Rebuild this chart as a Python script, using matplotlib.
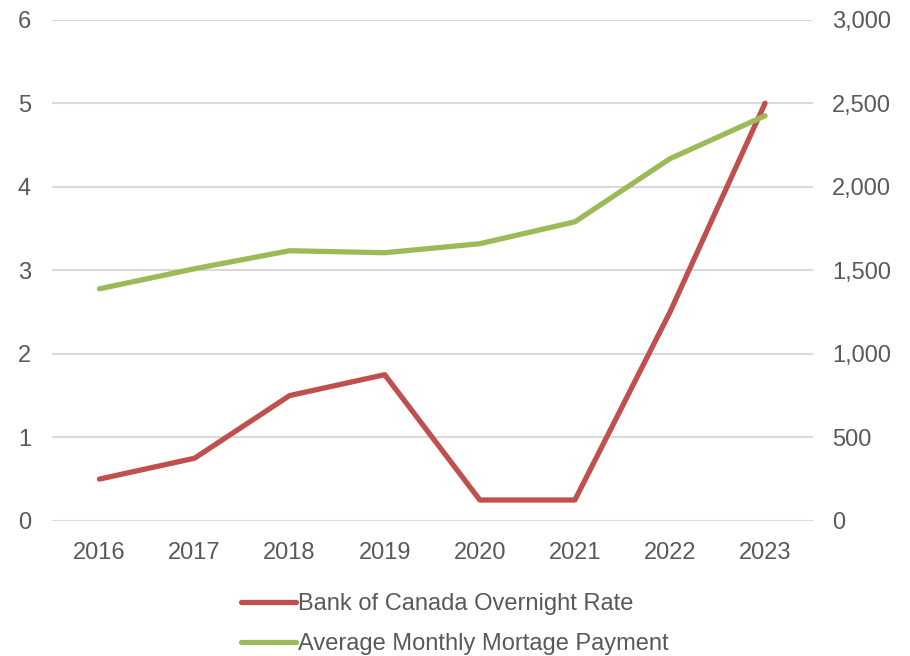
import matplotlib.pyplot as plt
from matplotlib.ticker import FuncFormatter

years = ["2016", "2017", "2018", "2019", "2020", "2021", "2022", "2023"]
overnight_rate = [0.5, 0.75, 1.5, 1.75, 0.25, 0.25, 2.5, 5.0]
mortgage_payment = [1389, 1509, 1617, 1605, 1659, 1790, 2168, 2425]

plt.rcParams['font.family'] = ['Liberation Sans', 'DejaVu Sans']
text_color = "#595959"
grid_color = "#D9D9D9"
red = "#C0504D"
green = "#9BBB59"

fig = plt.figure(figsize=(9.1, 6.56), dpi=100)
ax = fig.add_axes([0.057, 0.206, 0.836, 0.764])
ax2 = ax.twinx()

x = range(len(years))
l1, = ax.plot(x, overnight_rate, color=red, lw=3.8, solid_capstyle="round",
              label="Bank of Canada Overnight Rate", zorder=3)
l2, = ax2.plot(x, mortgage_payment, color=green, lw=3.8, solid_capstyle="round",
               label="Average Monthly Mortage Payment", zorder=3)

ax.set_xlim(-0.5, len(years) - 0.5)
ax.set_ylim(0, 6)
ax2.set_ylim(0, 3000)
ax.set_yticks(range(0, 7))
ax2.set_yticks(range(0, 3001, 500))
ax2.yaxis.set_major_formatter(FuncFormatter(lambda v, p: f"{int(v):,}"))
ax.set_xticks(list(x))
ax.set_xticklabels(years)

ax.grid(axis="y", color=grid_color, lw=1.5)
ax.set_axisbelow(True)
for a in (ax, ax2):
    for s in a.spines.values():
        s.set_visible(False)
    a.tick_params(length=0, labelsize=17, labelcolor=text_color)
ax.tick_params(axis="y", pad=15)
ax.tick_params(axis="x", pad=15)
ax2.tick_params(axis="y", pad=14)

fig.legend(handles=[l1, l2], loc="upper center", bbox_to_anchor=(0.5, 0.128),
           ncol=1, frameon=False, fontsize=17, labelcolor=text_color,
           handlelength=2.3, handletextpad=0.1, labelspacing=0.75)

fig.savefig("out.png", dpi=100)
